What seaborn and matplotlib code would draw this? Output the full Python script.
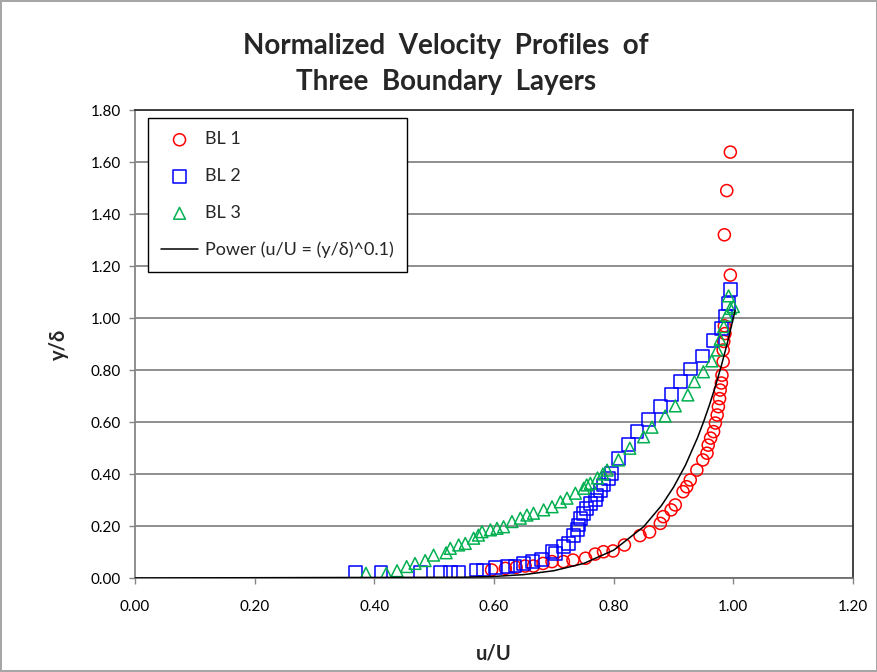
import matplotlib
matplotlib.use('Agg')
import matplotlib.pyplot as plt
import seaborn as sns
import pandas as pd

sns.set_style('white')
plt.rcParams['font.family'] = ['Lato', 'DejaVu Sans']

# BL 1 (red circles)
bl1_u = [0.596, 0.619, 0.637, 0.652, 0.666, 0.682, 0.697, 0.716, 0.732, 0.753,
         0.769, 0.783, 0.799, 0.818, 0.844, 0.860, 0.878, 0.883, 0.896, 0.903,
         0.916, 0.922, 0.928, 0.939, 0.949, 0.956, 0.958, 0.962, 0.967, 0.970,
         0.973, 0.975, 0.977, 0.978, 0.980, 0.981, 0.983, 0.983, 0.984, 0.986,
         0.985, 0.995, 0.985, 0.989, 0.995]
bl1_y = [0.031, 0.037, 0.041, 0.046, 0.046, 0.056, 0.063, 0.063, 0.069, 0.076,
         0.092, 0.101, 0.104, 0.127, 0.163, 0.177, 0.210, 0.236, 0.262, 0.281,
         0.332, 0.351, 0.377, 0.415, 0.454, 0.480, 0.511, 0.538, 0.563, 0.596,
         0.627, 0.659, 0.690, 0.723, 0.750, 0.780, 0.832, 0.877, 0.910, 0.940,
         0.970, 1.165, 1.320, 1.490, 1.638]

# BL 2 (blue squares)
bl2_u = [0.368, 0.411, 0.477, 0.510, 0.527, 0.541, 0.571, 0.582, 0.602, 0.622,
         0.635, 0.649, 0.665, 0.680, 0.697, 0.703, 0.716, 0.725, 0.733, 0.739,
         0.741, 0.744, 0.750, 0.755, 0.761, 0.769, 0.772, 0.778, 0.783, 0.792,
         0.797, 0.808, 0.825, 0.839, 0.858, 0.878, 0.897, 0.912, 0.929, 0.948,
         0.966, 0.980, 0.987, 0.992, 0.995]
bl2_y = [0.022, 0.022, 0.022, 0.022, 0.022, 0.022, 0.031, 0.031, 0.040, 0.044,
         0.046, 0.056, 0.063, 0.072, 0.101, 0.095, 0.120, 0.133, 0.165, 0.185,
         0.204, 0.230, 0.249, 0.268, 0.287, 0.300, 0.319, 0.338, 0.358, 0.383,
         0.403, 0.460, 0.512, 0.563, 0.610, 0.660, 0.707, 0.755, 0.804, 0.854,
         0.915, 0.960, 1.008, 1.055, 1.110]

# BL 3 (green triangles)
bl3_u = [0.386, 0.420, 0.438, 0.454, 0.468, 0.485, 0.499, 0.520, 0.527, 0.541,
         0.552, 0.566, 0.574, 0.580, 0.594, 0.605, 0.616, 0.630, 0.644, 0.655,
         0.666, 0.683, 0.697, 0.711, 0.722, 0.736, 0.750, 0.755, 0.761, 0.773,
         0.782, 0.789, 0.808, 0.827, 0.850, 0.864, 0.886, 0.903, 0.924, 0.935,
         0.950, 0.964, 0.973, 0.978, 0.984, 0.989, 0.995, 0.992, 1.000]
bl3_y = [0.018, 0.018, 0.028, 0.044, 0.056, 0.067, 0.088, 0.097, 0.114, 0.127,
         0.133, 0.153, 0.165, 0.178, 0.185, 0.191, 0.197, 0.217, 0.230, 0.242,
         0.249, 0.262, 0.274, 0.293, 0.307, 0.326, 0.345, 0.358, 0.364, 0.385,
         0.400, 0.415, 0.454, 0.499, 0.543, 0.580, 0.623, 0.662, 0.704, 0.755,
         0.793, 0.835, 0.877, 0.918, 0.967, 1.010, 1.037, 1.085, 1.044]

# Power curve u/U = (y/delta)^0.1
pow_u = [0.000, 0.550, 0.600, 0.650, 0.700, 0.750, 0.800, 0.850, 0.880, 0.900,
         0.920, 0.940, 0.950, 0.960, 0.970, 0.980, 0.990, 1.000, 1.003]
pow_y = [0.000, 0.003, 0.006, 0.013, 0.028, 0.056, 0.107, 0.197, 0.279, 0.349,
         0.434, 0.539, 0.599, 0.665, 0.737, 0.817, 0.904, 1.000, 1.030]

series = [
    ('BL 1', bl1_u, bl1_y, 'o', '#FF0000', 75),
    ('BL 2', bl2_u, bl2_y, 's', '#0000FF', 85),
    ('BL 3', bl3_u, bl3_y, '^', '#00B050', 72),
]

fig = plt.figure(figsize=(8.78, 6.72), dpi=100)
fig.patch.set_edgecolor('#a6a6a6')
fig.patch.set_linewidth(1.5)
ax = fig.add_axes([135 / 878, 1 - 578 / 672, 718 / 878, 468 / 672])

for name, u, y, mk, col, size in series:
    df = pd.DataFrame({'u': u, 'y': y})
    sns.scatterplot(data=df, x='u', y='y', ax=ax, marker=mk, s=size,
                    color=col, facecolor='none', edgecolor=col,
                    linewidth=1.1, label=name, zorder=3)

pw = pd.DataFrame({'u': pow_u, 'y': pow_y})
sns.lineplot(data=pw, x='u', y='y', ax=ax, sort=False, estimator=None,
             color='black', linewidth=1.1, label='Power (u/U = (y/δ)^0.1)', zorder=4)

ax.set_xlim(0, 1.2)
ax.set_ylim(0, 1.8)
ax.set_xticks([0, 0.2, 0.4, 0.6, 0.8, 1.0, 1.2])
ax.set_yticks([0, 0.2, 0.4, 0.6, 0.8, 1.0, 1.2, 1.4, 1.6, 1.8])
ax.set_xticklabels([f'{v:.2f}' for v in ax.get_xticks()])
ax.set_yticklabels([f'{v:.2f}' for v in ax.get_yticks()])
ax.tick_params(axis='both', labelsize=11, colors='black', length=4,
               direction='out', width=1, color='#868686', pad=6)
ax.tick_params(axis='x', bottom=True, pad=12)
ax.tick_params(axis='y', left=True, pad=6)

ax.yaxis.grid(True, color='#868686', linewidth=1.3)
ax.xaxis.grid(False)
ax.set_axisbelow(True)

ax.spines['left'].set_color('#868686')
ax.spines['bottom'].set_color('#6e6e6e')
ax.spines['top'].set_color('#333333')
ax.spines['right'].set_color('#333333')
for s in ax.spines.values():
    s.set_linewidth(1.3)

ax.set_xlabel('u/U', fontsize=14.5, fontweight='bold', labelpad=21)
ax.set_ylabel('y/δ', fontsize=14.5, fontweight='bold', labelpad=16)

fig.text(446 / 878, 1 - 64 / 672, 'Normalized  Velocity  Profiles  of\nThree  Boundary  Layers',
         ha='center', va='center', fontsize=20, fontweight='bold', linespacing=1.5)

leg = ax.legend(loc='upper left', bbox_to_anchor=(0.018, 0.983), fontsize=13,
                frameon=True, fancybox=False, framealpha=1, edgecolor='black',
                handlelength=2.0, labelspacing=1.15, borderpad=0.75,
                handletextpad=0.4, borderaxespad=0)
leg.get_frame().set_linewidth(1.0)

fig.savefig('out.png', dpi=100)
